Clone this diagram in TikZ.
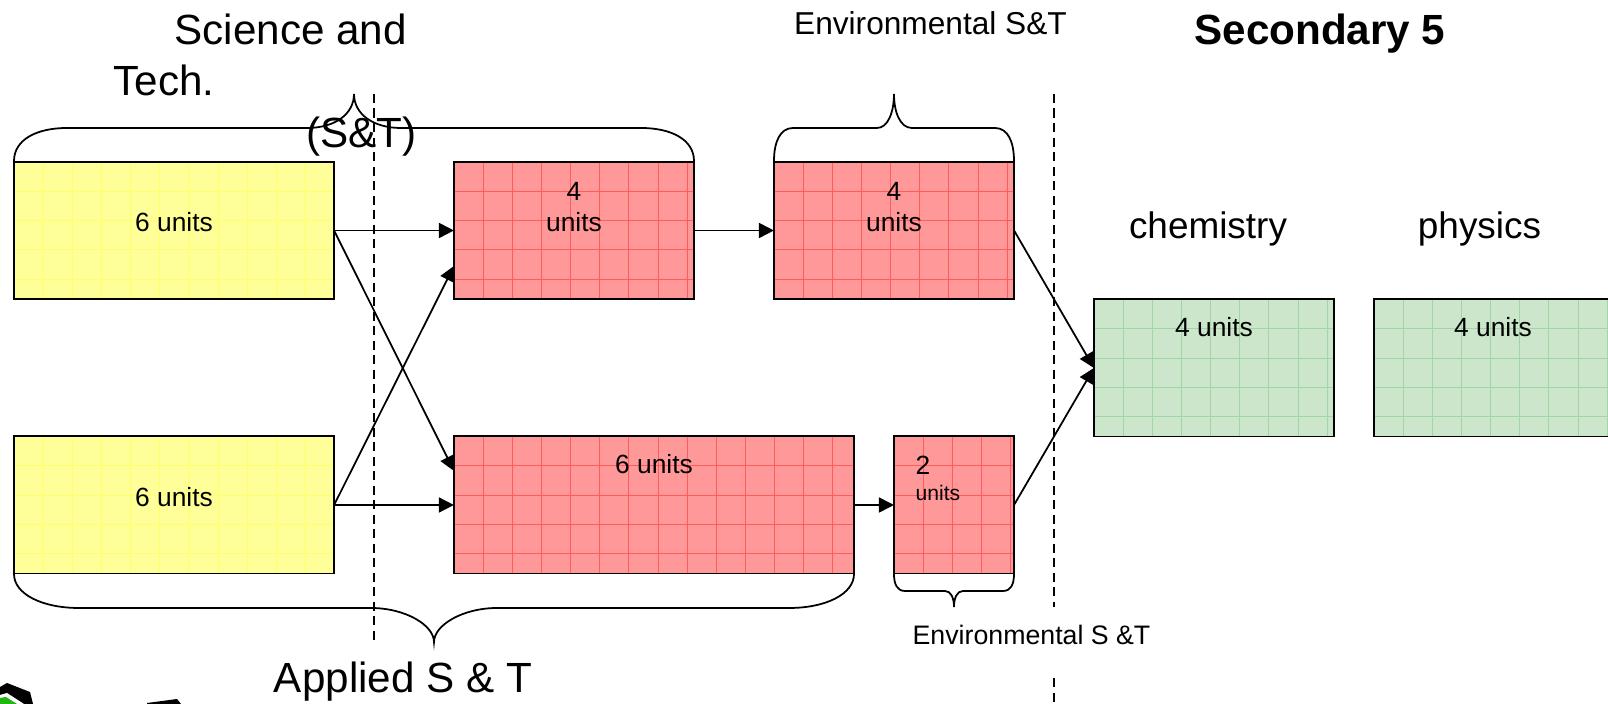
\documentclass[tikz,border=0pt]{standalone}
\usepackage{fontspec}
\setmainfont{Liberation Sans}
\usetikzlibrary{arrows.meta,calc}

\definecolor{yellow_fill}{HTML}{FFFF99}
\definecolor{yellow_grid}{HTML}{FFFF66}
\definecolor{red_fill}{HTML}{FF9999}
\definecolor{red_grid}{HTML}{FF5C5C}
\definecolor{green_fill}{HTML}{CCE6CC}
\definecolor{green_grid}{HTML}{A3D4A3}
\definecolor{logo_green}{HTML}{22B814}

\begin{document}
\begin{tikzpicture}[
                    x=0.01cm, y=-0.01cm,
                    unit_box/.style={rectangle, draw=black, line width=0.55pt, inner sep=0pt, outer sep=0pt, minimum height=1.37cm},
                    grid_lines/.style={path picture={
                        \foreach \i in {1,...,20} {
                            \draw[#1, line width=0.2pt] ($(path picture bounding box.north west)+(29.15*\i,0)$) -- ++(0,140);
                        }
                        \foreach \i in {1,...,4} {
                            \draw[#1, line width=0.2pt] ($(path picture bounding box.north west)+(0,29.3*\i)$) -- ++(420,0);
                        }
                    }},
                    yellow_box/.style={unit_box, fill=yellow_fill, grid_lines=yellow_grid},
                    red_box/.style={unit_box, fill=red_fill, grid_lines=red_grid},
                    green_box/.style={unit_box, fill=green_fill, grid_lines=green_grid},
                    unit_text/.style={font=\fontsize{7.5pt}{9pt}\selectfont, inner sep=0pt, anchor=base},
                    mid_text/.style={font=\fontsize{9pt}{11pt}\selectfont, inner sep=0pt, anchor=base},
                    big_text/.style={font=\fontsize{12pt}{14.5pt}\selectfont, inner sep=0pt, anchor=base},
                    link/.style={-{Triangle[length=0.15cm, width=0.15cm]}, line width=0.5pt},
                    brace_line/.style={line width=0.5pt},
                    divider/.style={line width=0.5pt, dash pattern=on 0.09cm off 0.055cm}
                ]
    \useasboundingbox (0,0) rectangle (1608,704);

    % dividers
    \coordinate (div_a_top) at (374,94);
    \coordinate (div_a_end) at (374,642);
    \coordinate (div_b_top) at (1054,94);
    \coordinate (div_b_mid) at (1054,607);
    \coordinate (div_b_low) at (1054,678);
    \coordinate (div_b_end) at (1054,704);
    \draw[divider] (div_a_top) -- (div_a_end);
    \draw[divider] (div_b_top) -- (div_b_mid);
    \draw[divider] (div_b_low) -- (div_b_end);

    % boxes
    \node[yellow_box, minimum width=3.2cm] (yellow_a) at (174,230.5) {};
    \node[yellow_box, minimum width=3.2cm] (yellow_b) at (174,505) {};
    \node[red_box, minimum width=2.4cm] (red_a) at (574,230.5) {};
    \node[red_box, minimum width=2.4cm] (red_b) at (894,230.5) {};
    \node[red_box, minimum width=4cm] (red_c) at (654,505) {};
    \node[red_box, minimum width=1.2cm] (red_d) at (954,505) {};
    \node[green_box, minimum width=2.4cm] (green_a) at (1214,368) {};
    \node[green_box, minimum width=2.4cm] (green_b) at (1494,368) {};

    % arrows
    \coordinate (red_a_in) at (454,266);
    \coordinate (red_c_in) at (454,471);
    \draw[link] (yellow_a.east) -- (red_a.west);
    \draw[link] (yellow_a.east) -- (red_c_in);
    \draw[link] (yellow_b.east) -- (red_a_in);
    \draw[link] (yellow_b.east) -- (red_c.west);
    \draw[link] (red_a.east) -- (red_b.west);
    \draw[link] (red_c.east) -- (red_d.west);
    \draw[link] (red_b.east) -- (green_a.west);
    \draw[link] (red_d.east) -- (green_a.west);

    % braces
    \draw[brace_line] (14,161) .. controls (14,140) and (36,128) .. (67,128) -- (307,128)
        .. controls (335,128) and (354,114) .. (354,94)
        .. controls (354,114) and (373,128) .. (401,128) -- (641,128)
        .. controls (672,128) and (694,140) .. (694,161);
    \draw[brace_line] (774,161) .. controls (774,142) and (780,128) .. (793,128) -- (877,128)
        .. controls (888,128) and (894,112) .. (894,94)
        .. controls (894,112) and (900,128) .. (912,128) -- (995,128)
        .. controls (1008,128) and (1014,142) .. (1014,161);
    \draw[brace_line] (14,574) .. controls (14,594) and (42,608) .. (79,608) -- (371,608)
        .. controls (405,608) and (434,625) .. (434,642)
        .. controls (434,625) and (463,608) .. (497,608) -- (789,608)
        .. controls (826,608) and (854,594) .. (854,574);
    \draw[brace_line] (894,574) .. controls (894,584) and (897,591) .. (905,591) -- (945,591)
        .. controls (951,591) and (954,598) .. (954,607)
        .. controls (954,598) and (957,591) .. (963,591) -- (1003,591)
        .. controls (1011,591) and (1014,584) .. (1014,574);

    % logo cut off by the page edge
    \fill[black] (0,687) -- (7,683) -- (30,692) -- (33,704) -- (0,704) -- cycle;
    \fill[white] (0,695) -- (7,693) -- (24,704) -- (0,704) -- cycle;
    \fill[logo_green] (0,698) -- (6,697) -- (17,704) -- (0,704) -- cycle;
    \fill[black] (147,703) -- (177,699) -- (181,704) -- (147,704) -- cycle;

    % box texts
    \node[unit_text] (text_yellow_a) at (174,232) {6 units};
    \node[unit_text] (text_yellow_b) at (174,506.5) {6 units};
    \node[unit_text] (text_red_a_n) at (574,200.5) {4};
    \node[unit_text] (text_red_a) at (574,232) {units};
    \node[unit_text] (text_red_b_n) at (894,200.5) {4};
    \node[unit_text] (text_red_b) at (894,232) {units};
    \node[unit_text] (text_red_c) at (654,474) {6 units};
    \node[unit_text, anchor=base west] (text_red_d_n) at (915,474.5) {2};
    \node[unit_text, anchor=base west, font=\fontsize{6pt}{7pt}\selectfont] (text_red_d) at (915,501) {units};
    \node[unit_text] (text_green_a) at (1214,337) {4 units};
    \node[unit_text] (text_green_b) at (1493,337) {4 units};

    % headings
    \node[big_text, anchor=north west, align=left] (title_st) at (113,13) {\hspace*{0.61cm}Science and\\Tech.};
    \node[big_text] (title_st_short) at (361.5,148) {(S\&T)};
    \node[mid_text] (title_env_top) at (930.5,35) {Environmental S\&T};
    \node[big_text, font=\fontsize{12pt}{14.5pt}\selectfont\bfseries] (title_sec) at (1320,45) {Secondary 5};
    \node[big_text, font=\fontsize{10.5pt}{13pt}\selectfont] (title_chem) at (1208,239) {chemistry};
    \node[big_text, font=\fontsize{10.5pt}{13pt}\selectfont] (title_phys) at (1479.5,239) {physics};
    \node[unit_text, font=\fontsize{7.6pt}{9pt}\selectfont] (title_env_low) at (1031.5,645) {Environmental S \&T};
    \node[big_text] (title_applied) at (403,693) {Applied S \& T};
\end{tikzpicture}
\end{document}
